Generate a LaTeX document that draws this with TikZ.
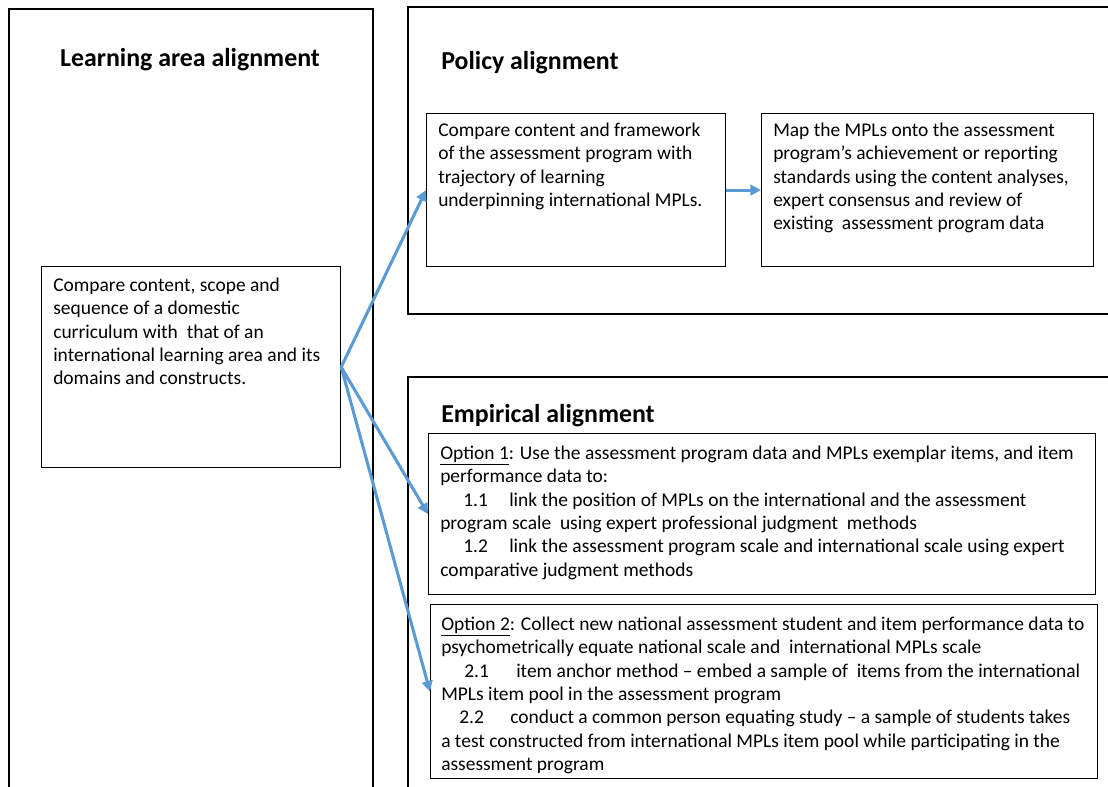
\documentclass[tikz,border=0pt]{standalone}
\usepackage{fontspec}
\setmainfont{Carlito}
\usetikzlibrary{arrows.meta}
\definecolor{arrowblue}{RGB}{91,155,213}
\tikzset{
  frame/.style={draw=black, line width=0.9pt},
  box/.style={draw=black, line width=0.9pt, inner sep=0pt, anchor=north west},
  txt/.style={inner sep=0pt, anchor=north west, align=left, font=\fontsize{14.6}{17.5}\selectfont},
  ttl/.style={inner sep=0pt, font=\fontsize{19.4}{22}\selectfont\bfseries},
  conn/.style={draw=arrowblue, line width=2.3pt, -{Triangle[length=8pt,width=8pt]}}
}
\newcommand{\ind}[3]{\hspace*{#1}\makebox[#2][l]{#3}}
\begin{document}
\begin{tikzpicture}[x=0.75pt,y=-0.75pt]
\useasboundingbox (0,0) rectangle (1108,787);
% outer frames
\draw[frame] (9,800) -- (9,9) -- (373,9) -- (373,800);
\draw[frame] (1120,7) -- (408,7) -- (408,314) -- (1120,314);
\draw[frame] (1120,377) -- (408,377) -- (408,800);
% titles
\node[ttl] (t1) at (190,60) {Learning area alignment};
\node[ttl, anchor=west] (t2) at (441,63) {Policy alignment};
\node[ttl, anchor=west] (t3) at (441,416) {Empirical alignment};
% boxes
\node[box, minimum width=299*0.75pt, minimum height=201*0.75pt] (cur) at (41,266) {};
\node[box, minimum width=299*0.75pt, minimum height=153*0.75pt] (cmp) at (426,113) {};
\node[box, minimum width=332*0.75pt, minimum height=153*0.75pt] (map) at (761,113) {};
\node[box, minimum width=667*0.75pt, minimum height=161*0.75pt] (op1) at (428,433) {};
\node[box, minimum width=667*0.75pt, minimum height=174*0.75pt] (op2) at (430,604) {};
% texts
\node[txt] (curt) at (53,275) {\strut Compare content, scope and\\ sequence of a domestic\\ curriculum with\ \ that of an\\ international learning area and its\\ domains and constructs.};
\node[txt] (cmpt) at (438,120) {\strut Compare content and framework\\ of the assessment program with\\ trajectory of learning\\ underpinning international MPLs.};
\node[txt] (mapt) at (773,120) {\strut Map the MPLs onto the assessment\\ program’s achievement or reporting\\ standards using the content analyses,\\ expert consensus and review of\\ existing\ \ assessment program data};
\node[txt] (op1t) at (440,443) {\strut\underline{Option 1}: Use the assessment program data and MPLs exemplar items, and item\\ performance data to:\\ \ind{17.25pt}{34.5pt}{1.1}link the position of MPLs on the international and the assessment\\ program scale\ \ using expert professional judgment\ \ methods\\ \ind{17.25pt}{34.5pt}{1.2}link the assessment program scale and international scale using expert\\ comparative judgment methods};
\node[txt] (op2t) at (441,614) {\strut\underline{Option 2}: Collect new national assessment student and item performance data to\\ psychometrically equate national scale and\ \ international MPLs scale\\ \ind{17.25pt}{39pt}{2.1}item anchor method – embed a sample of\ \ items from the international\\ MPLs item pool in the assessment program\\ \ind{13.5pt}{38.25pt}{2.2}conduct a common person equating study – a sample of students takes\\ a test constructed from international MPLs item pool while participating in the\\ assessment program};
% connectors
\draw[conn] (cur.east) -- (cmp.west);
\draw[conn] (cur.east) -- (op1.west);
\draw[conn] (cur.east) -- (op2.west);
\draw[conn] (cmp.east) -- (map.west);
\end{tikzpicture}
\end{document}
